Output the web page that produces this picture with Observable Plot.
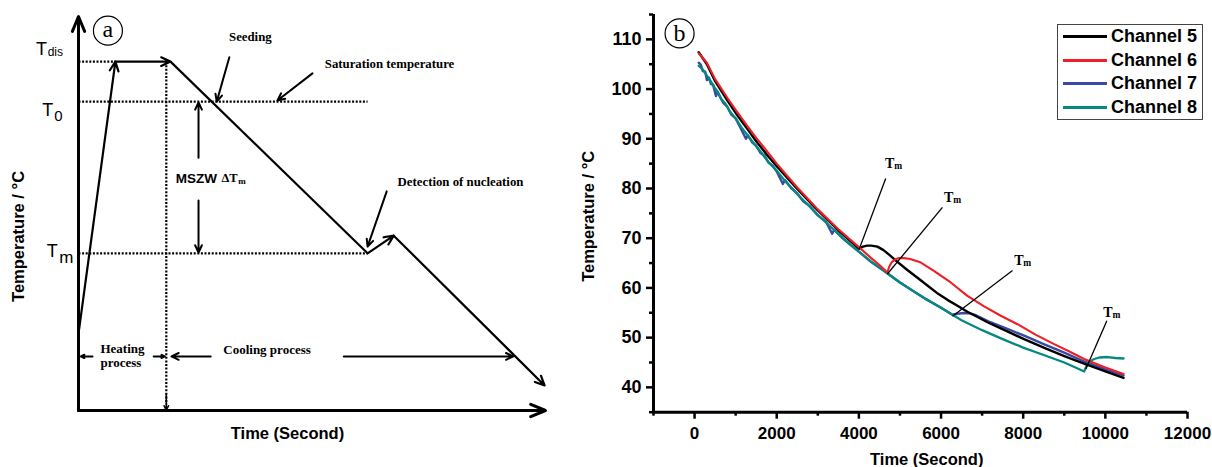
<!DOCTYPE html>
<html>
<head>
<meta charset="utf-8">
<script src="https://cdn.jsdelivr.net/npm/d3@7"></script>
<script src="https://cdn.jsdelivr.net/npm/@observablehq/plot@0.6"></script>
<style>
  body { margin: 0; background: #fff; }
  #wrap { position: relative; width: 1212px; height: 467px; overflow: hidden; background: #fff; }
  #pa { position: absolute; left: 0; top: 0; }
  #pb { position: absolute; left: 580px; top: 0; }
  #legend { position: absolute; left: 1057px; top: 24px; width: 146px; height: 96px; border: 1px solid #444;
            box-sizing: border-box; background: #fff; }
  #legend .row { height: 23.5px; display: flex; align-items: center; }
  #legend .sw { width: 44px; height: 3px; margin-left: 5px; margin-right: 4px; }
  #legend .lab { font: bold 18px "Liberation Sans", Arial, sans-serif; color: #000; white-space: nowrap; }
  svg { overflow: visible; }
</style>
</head>
<body>
<div id="wrap"><div id="pa"></div><div id="pb"></div><div id="legend"></div></div>
<script>
// ================= Panel (a): schematic (arbitrary time / temperature units) =================
const profileTime = [0, 7.9, 19.7, 61.9, 67.5, 99.8];
const profileTemp = [19.6, 89.0, 89.0, 40.1, 44.6, 6.4];
const profileHead = [true, true, false, true, true];

const levelSub = ["dis", "0", "m"];
const levelTemp = [89.0, 78.8, 40.1];
const levelEnd = [7.9, 61.9, 61.9];
const coolStartTime = 18.8;

const noteArrowX1 = [32.3, 50.1, 66.0, 25.7, 25.7, 3.0, 16.1, 28.3, 56.8];
const noteArrowY1 = [90.1, 86.0, 55.9, 64.5, 53.6, 13.8, 13.8, 13.8, 13.8];
const noteArrowX2 = [29.6, 42.6, 61.9, 25.7, 25.7, 0.5, 18.5, 19.9, 93.1];
const noteArrowY2 = [78.8, 79.1, 41.8, 78.6, 40.3, 13.8, 13.8, 13.8, 13.8];

const noteCenterText = ["Seeding", "Saturation temperature", "Detection of nucleation"];
const noteCenterX = [36.8, 66.6, 81.8];
const noteCenterY = [95.4, 88.5, 58.2];
const noteStartText = ["Heating", "process", "Cooling process"];
const noteStartX = [4.7, 4.7, 31.0];
const noteStartY = [15.8, 12.2, 15.6];

// ================= Panel (b): measured cooling curves =================
const channels = ["Channel 5", "Channel 6", "Channel 7", "Channel 8"];
const channelColors = ["#000000", "#ee1f26", "#3949a6", "#06897f"];

const ch5Time = [100, 300, 500, 800, 1000, 1300, 1500, 1800, 2000, 2500, 3000, 3500, 4003, 4100, 4200, 4300, 4450, 4600, 4750, 4900, 5180, 5450, 5668, 5900, 6155, 6400, 6642, 6900, 7130, 7600, 8022, 8500, 9000, 9500, 10000, 10443];
const ch5Temp = [107.4, 105.0, 101.6, 97.7, 95.2, 91.8, 89.5, 86.4, 84.5, 79.9, 75.6, 71.6, 67.9, 68.3, 68.5, 68.5, 68.3, 67.6, 66.6, 65.5, 63.6, 61.9, 60.5, 59.0, 57.6, 56.4, 55.2, 54.1, 53.1, 51.3, 49.7, 48.0, 46.3, 44.7, 43.2, 41.9];

const ch6Time = [100, 300, 500, 800, 1000, 1300, 1500, 1800, 2000, 2500, 3000, 3500, 4000, 4300, 4500, 4693, 4740, 4800, 4880, 4980, 5100, 5250, 5510, 5835, 6236, 6642, 7049, 7454, 7861, 8300, 8753, 9100, 9484, 10000, 10443];
const ch6Temp = [107.2, 105.3, 102.0, 98.2, 95.8, 92.4, 90.2, 87.1, 85.0, 80.2, 75.8, 71.8, 68.2, 66.0, 64.6, 63.1, 64.3, 65.2, 65.7, 66.0, 66.0, 65.8, 65.1, 63.4, 61.1, 58.4, 56.3, 54.4, 52.7, 50.6, 48.7, 47.3, 45.7, 44.0, 42.7];

const ch7Time = [100, 150, 200, 260, 300, 350, 400, 450, 520, 560, 600, 700, 800, 900, 1000, 1100, 1250, 1300, 1400, 1500, 1600, 1700, 1800, 1900, 2000, 2150, 2200, 2350, 2500, 2650, 2800, 3000, 3200, 3350, 3400, 3600, 3800, 4000, 4300, 4600, 5000, 5300, 5600, 6000, 6277, 6400, 6550, 6700, 6850, 7000, 7200, 7600, 8022, 8500, 9000, 9484, 10000, 10443];
const ch7Temp = [105.3, 104.9, 103.6, 103.5, 101.8, 102.3, 101.0, 100.9, 98.6, 99.5, 98.7, 97.2, 96.4, 94.8, 94.1, 92.5, 90.0, 90.7, 89.3, 88.6, 87.2, 86.6, 85.2, 84.6, 83.4, 80.9, 81.7, 80.1, 79.0, 77.4, 76.5, 74.6, 73.3, 70.9, 71.7, 70.0, 68.6, 67.3, 65.2, 63.5, 61.1, 59.5, 57.9, 56.0, 54.6, 54.8, 54.95, 54.9, 54.5, 53.9, 53.1, 51.8, 50.4, 48.7, 47.0, 45.2, 43.6, 42.4];

const ch8Time = [100, 200, 300, 400, 480, 550, 650, 750, 850, 1000, 1150, 1300, 1450, 1600, 1800, 2000, 2200, 2400, 2600, 2800, 3000, 3300, 3600, 4000, 4300, 4600, 5000, 5300, 5600, 6000, 6277, 6500, 7000, 7500, 8000, 8500, 9000, 9300, 9484, 9530, 9600, 9700, 9850, 10050, 10250, 10443];
const ch8Temp = [104.7, 103.9, 102.7, 101.5, 100.4, 99.6, 98.0, 97.1, 95.6, 94.1, 92.2, 90.6, 89.0, 87.5, 85.3, 83.6, 81.5, 79.8, 78.0, 76.4, 74.7, 72.4, 70.1, 67.3, 65.3, 63.5, 61.1, 59.5, 57.9, 56.0, 54.6, 53.5, 51.5, 49.7, 48.0, 46.5, 45.0, 43.9, 43.2, 44.1, 45.0, 45.6, 46.0, 46.1, 45.9, 45.8];

// Tm annotations (label position and leader line, data units)
const tmLabelTime = [4750, 6188, 7893, 10061];
const tmLabelTemp = [85.0, 78.2, 65.5, 55.0];
const tmLineFromTime = [4653, 6034, 7740, 10037];
const tmLineFromTemp = [82.0, 76.2, 63.5, 53.4];
const tmLineToTime = [4003, 4694, 6278, 9525];
const tmLineToTemp = [67.7, 62.8, 54.3, 43.7];

const xMajorTicks = [0, 2000, 4000, 6000, 8000, 10000, 12000];
const xMinorTicks = [-1000, 1000, 3000, 5000, 7000, 9000, 11000];
const yMajorTicks = [40, 50, 60, 70, 80, 90, 100, 110];
const yMinorTicks = [35, 45, 55, 65, 75, 85, 95, 105, 115];

// ---------------- build panel (a) ----------------
const SANS = '"Liberation Sans", Arial, sans-serif';
const SERIF = '"Liberation Serif", "Times New Roman", serif';

const segs = profileHead.map((h, i) => ({x1: profileTime[i], y1: profileTemp[i], x2: profileTime[i + 1], y2: profileTemp[i + 1], head: h}));
const levels = levelSub.map((s, i) => ({sub: s, y: levelTemp[i], x2: levelEnd[i]}));
const noteArrows = noteArrowX1.map((x, i) => ({x1: x, y1: noteArrowY1[i], x2: noteArrowX2[i], y2: noteArrowY2[i]}));
const notesC = noteCenterText.map((t, i) => ({t, x: noteCenterX[i], y: noteCenterY[i]}));
const notesS = noteStartText.map((t, i) => ({t, x: noteStartX[i], y: noteStartY[i]}));
// label placement for the T symbols (data units of the schematic)
const tSym = [{lx: -7.9, ly: 92.1, sx: -6.6, sy: 91.4, size: 12}, {lx: -6.6, ly: 76.6, sx: -5.2, sy: 75.2, size: 15}, {lx: -5.6, ly: 40.7, sx: -4.1, sy: 38.9, size: 17}];
levels.forEach((d, i) => Object.assign(d, tSym[i]));

const plotA = Plot.plot({
  width: 580, height: 467,
  x: {domain: [0, 100], range: [78, 545], axis: null},
  y: {domain: [0, 100], range: [410, 18], axis: null},
  style: {fontFamily: SANS, background: "#fff", overflow: "visible"},
  marks: [
    Plot.arrow([{x1: 0, y1: 0, x2: 0, y2: 100.5}, {x1: 0, y1: 0, x2: 100, y2: 0}], {x1: "x1", y1: "y1", x2: "x2", y2: "y2", strokeWidth: 3, headLength: 8, headAngle: 45}),
    Plot.link(levels, {x1: 0, x2: "x2", y1: "y", y2: "y", strokeWidth: 2.2, strokeDasharray: "2,1.6"}),
    Plot.link([{x: coolStartTime, y1: levelTemp[0], y2: 1.5}], {x1: "x", x2: "x", y1: "y1", y2: "y2", strokeWidth: 2.2, strokeDasharray: "2,1.6"}),
    Plot.arrow([{x: coolStartTime, y1: 4, y2: 0}], {x1: "x", x2: "x", y1: "y1", y2: "y2", strokeWidth: 1.6, headLength: 6, headAngle: 50}),
    Plot.arrow(segs.filter(d => d.head), {x1: "x1", y1: "y1", x2: "x2", y2: "y2", strokeWidth: 2.2, headLength: 7, headAngle: 50}),
    Plot.link(segs.filter(d => !d.head), {x1: "x1", y1: "y1", x2: "x2", y2: "y2", strokeWidth: 2.2}),
    Plot.arrow(noteArrows, {x1: "x1", y1: "y1", x2: "x2", y2: "y2", strokeWidth: 2, headLength: 6, headAngle: 50}),
    Plot.text(notesC, {x: "x", y: "y", text: "t", fontFamily: SERIF, fontWeight: "bold", fontSize: 12.8, textAnchor: "middle"}),
    Plot.text(notesS, {x: "x", y: "y", text: "t", fontFamily: SERIF, fontWeight: "bold", fontSize: 13, textAnchor: "start"}),
    Plot.text([{x: 20.8, y: 59.2}], {x: "x", y: "y", text: () => "MSZW", fontFamily: SANS, fontWeight: "bold", fontSize: 13.5, textAnchor: "start"}),
    Plot.text([{x: 30.6, y: 59.2}], {x: "x", y: "y", text: () => "ΔT", fontFamily: SERIF, fontWeight: "bold", fontSize: 12.5, textAnchor: "start"}),
    Plot.text([{x: 34.2, y: 58.5}], {x: "x", y: "y", text: () => "m", fontFamily: SERIF, fontWeight: "bold", fontSize: 9, textAnchor: "start"}),
    Plot.text(levels, {x: "lx", y: "ly", text: () => "T", fontFamily: SANS, fontSize: 18, textAnchor: "middle"}),
    Plot.text(levels, {x: "sx", y: "sy", text: "sub", fontFamily: SANS, fontSize: d => d.size, textAnchor: "start"}),
    Plot.dot([{x: 6.3, y: 96.9}], {x: "x", y: "y", r: 14.5, stroke: "black", strokeWidth: 1.2}),
    Plot.text([{x: 6.3, y: 97.2}], {x: "x", y: "y", text: () => "a", fontFamily: SERIF, fontSize: 24}),
    Plot.text([{x: 44.75, y: -5.9}], {x: "x", y: "y", text: () => "Time (Second)", fontFamily: SANS, fontWeight: "bold", fontSize: 16.5}),
    Plot.text([{x: -12.85, y: 44.4}], {x: "x", y: "y", text: () => "Temperature / °C", rotate: -90, fontFamily: SANS, fontWeight: "bold", fontSize: 16.5})
  ]
});
document.getElementById("pa").appendChild(plotA);

// ---------------- build panel (b) ----------------
const series = [
  {ch: channels[2], t: ch7Time, v: ch7Temp, w: 2.4},
  {ch: channels[3], t: ch8Time, v: ch8Temp, w: 2.3},
  {ch: channels[0], t: ch5Time, v: ch5Temp, w: 2.4},
  {ch: channels[1], t: ch6Time, v: ch6Temp, w: 2.1}
];
const lineMarks = series.map(s => Plot.line(s.t.map((t, i) => ({t, v: s.v[i], ch: s.ch})), {x: "t", y: "v", stroke: "ch", strokeWidth: s.w, strokeLinejoin: "round"}));

const tmData = tmLabelTime.map((t, i) => ({t, v: tmLabelTemp[i], x1: tmLineFromTime[i], y1: tmLineFromTemp[i], x2: tmLineToTime[i], y2: tmLineToTemp[i]}));

const axisFont = {fontFamily: SANS, fontWeight: "bold", fontSize: 17};
const plotB = Plot.plot({
  width: 632, height: 467,
  marginLeft: 73, marginRight: 25, marginTop: 14, marginBottom: 55.3,
  x: {domain: [-1000, 12000], axis: null},
  y: {domain: [35, 115], axis: null},
  color: {domain: channels, range: channelColors},
  style: {fontFamily: SANS, background: "#fff", overflow: "visible"},
  marks: [
    ...lineMarks,
    Plot.link(tmData, {x1: "x1", y1: "y1", x2: "x2", y2: "y2", strokeWidth: 1.3}),
    Plot.text(tmData, {x: "t", y: "v", text: () => "T", fontFamily: SERIF, fontWeight: "bold", fontSize: 14}),
    Plot.text(tmData, {x: "t", y: "v", text: () => "m", dx: 8.5, dy: 2.5, fontFamily: SERIF, fontWeight: "bold", fontSize: 9.5}),
    Plot.axisX({ticks: xMajorTicks, tickSize: 7, tickPadding: 8, strokeWidth: 2.5, tickFormat: d => String(d), label: null, ...axisFont}),
    Plot.axisX({ticks: xMinorTicks, tickSize: 4, strokeWidth: 2.5, tickFormat: () => "", label: null}),
    Plot.axisY({ticks: yMajorTicks, tickSize: 7, tickPadding: 5, strokeWidth: 2.5, tickFormat: d => String(d), label: null, ...axisFont, fontSize: 18}),
    Plot.axisY({ticks: yMinorTicks, tickSize: 4, strokeWidth: 2.5, tickFormat: () => "", label: null}),
    Plot.ruleY([35], {strokeWidth: 3}),
    Plot.ruleX([-1000], {strokeWidth: 3}),
    Plot.dot([{t: -365, v: 111.2}], {x: "t", y: "v", r: 14.5, stroke: "black", strokeWidth: 1.2}),
    Plot.text([{t: -365, v: 111.2}], {x: "t", y: "v", text: () => "b", fontFamily: SERIF, fontSize: 24}),
    Plot.text([{t: 5652, v: 25.5}], {x: "t", y: "v", text: () => "Time (Second)", fontFamily: SANS, fontWeight: "bold", fontSize: 16.5}),
    Plot.text([{t: -2582, v: 74.4}], {x: "t", y: "v", text: () => "Temperature / °C", rotate: -90, fontFamily: SANS, fontWeight: "bold", fontSize: 16.5})
  ]
});
document.getElementById("pb").appendChild(plotB);

// ---------------- legend ----------------
const legend = document.getElementById("legend");
channels.forEach((c, i) => {
  const row = document.createElement("div");
  row.className = "row";
  row.innerHTML = `<span class="sw" style="background:${channelColors[i]}"></span><span class="lab">${c}</span>`;
  legend.appendChild(row);
});
</script>
</body>
</html>
